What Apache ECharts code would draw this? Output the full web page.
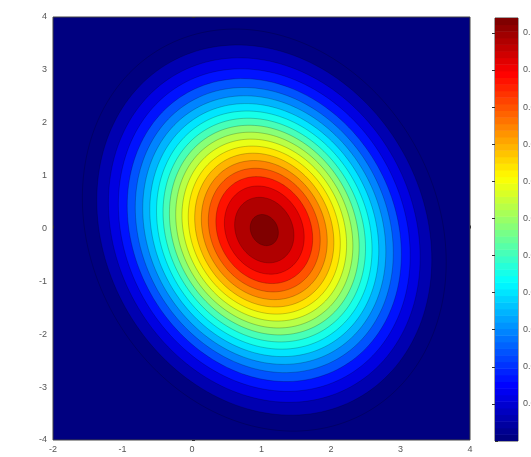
<!DOCTYPE html>
<html>
<head>
<meta charset="utf-8">
<script src="https://cdn.jsdelivr.net/npm/echarts@6.0.0/dist/echarts.min.js"></script>
<style>
html,body{margin:0;padding:0;background:#fff;}
#chart{width:531px;height:457px;}
</style>
</head>
<body>
<div id="chart"></div>
<script>
// ---- data ----
const xTicks = [-2, -1, 0, 1, 2, 3, 4];
const yTicks = [-4, -3, -2, -1, 0, 1, 2, 3, 4];
const colorbarTicks = [0.01, 0.02, 0.03, 0.04, 0.05, 0.06, 0.07, 0.08, 0.09, 0.10, 0.11];
const peakValue = 0.114;                   // top of the colour bar
const peakCenter = [1.04, -0.03];          // centre of the dark-red core
const shapeCov = [[1.55, -0.36], [-0.36, 3.27]]; // spread / tilt of the rings
const contourLevels = [0.0125, 0.0175, 0.0225, 0.0275, 0.0325, 0.0375, 0.0425, 0.0475, 0.0525, 0.0575,
                       0.0625, 0.0675, 0.0725, 0.0775, 0.0825, 0.0875, 0.0925, 0.0975, 0.1025, 0.1075, 0.1125];
const colormapSize = 64;

// ---- derived ----
const L11 = Math.sqrt(shapeCov[0][0]);
const L21 = shapeCov[1][0] / L11;
const L22 = Math.sqrt(shapeCov[1][1] - L21 * L21);
const levelMin = contourLevels[0];
const levelMax = contourLevels[contourLevels.length - 1];

function jet(t) {
  const c = v => Math.max(0, Math.min(1, v));
  const r = c(1.5 - Math.abs(4 * t - 3));
  const g = c(1.5 - Math.abs(4 * t - 2));
  const b = c(1.5 - Math.abs(4 * t - 1));
  return 'rgb(' + Math.round(r * 255) + ',' + Math.round(g * 255) + ',' + Math.round(b * 255) + ')';
}
function jetDiscrete(t) {
  const idx = Math.max(0, Math.min(colormapSize - 1, Math.round(t * (colormapSize - 1))));
  return jet(idx / (colormapSize - 1));
}

const contourData = contourLevels.map((lv, i) => [peakCenter[0], peakCenter[1], lv, i]);
const barData = [];
for (let i = 0; i < colormapSize; i++) barData.push([0.5, (i + 0.5) * peakValue / colormapSize, i]);

const labelStyle = { color: '#555', fontSize: 9, fontFamily: 'Liberation Sans' };

const chart = echarts.init(document.getElementById('chart'), null, { renderer: 'canvas' });
chart.setOption({
  animation: false,
  backgroundColor: '#fff',
  grid: [
    { left: 53, right: 61, top: 17, bottom: 17, show: true, backgroundColor: jet(0),
      borderColor: '#444', borderWidth: 1, containLabel: false, outerBoundsMode: 'none' },
    { left: 495, width: 23, top: 18, bottom: 16, show: true, borderColor: '#444', borderWidth: 1,
      containLabel: false, outerBoundsMode: 'none' }
  ],
  xAxis: [
    { gridIndex: 0, type: 'value', min: -2, max: 4, interval: 1,
      axisLine: { show: false }, splitLine: { show: false },
      axisTick: { inside: true, length: 3, lineStyle: { color: '#333' } },
      axisLabel: Object.assign({ margin: 5 }, labelStyle) },
    { gridIndex: 1, type: 'value', min: 0, max: 1, show: false }
  ],
  yAxis: [
    { gridIndex: 0, type: 'value', min: -4, max: 4, interval: 1,
      axisLine: { show: false }, splitLine: { show: false },
      axisTick: { inside: true, length: 3, lineStyle: { color: '#333' } },
      axisLabel: Object.assign({ margin: 6 }, labelStyle) },
    { gridIndex: 1, type: 'value', min: 0, max: peakValue, interval: 0.01, position: 'right',
      axisLine: { show: false }, splitLine: { show: false },
      axisTick: { inside: true, length: 3, lineStyle: { color: '#333' } },
      axisLabel: Object.assign({ margin: 5, showMinLabel: false, showMaxLabel: false,
        formatter: v => (colorbarTicks.some(t => Math.abs(t - v) < 1e-9) ? v.toFixed(2) : '') }, labelStyle) },
    { gridIndex: 1, type: 'value', min: 0, max: peakValue, interval: 0.01, position: 'left',
      axisLine: { show: false }, splitLine: { show: false }, axisLabel: { show: false },
      axisTick: { inside: true, length: 3, lineStyle: { color: '#333' } } }
  ],
  series: [
    {
      type: 'custom', xAxisIndex: 0, yAxisIndex: 0, clip: true,
      data: contourData,
      renderItem: function (params, api) {
        const lv = api.value(2);
        const c = -2 * Math.log(lv / peakValue);
        const s = Math.sqrt(c);
        const pts = [];
        const N = 180;
        for (let j = 0; j < N; j++) {
          const th = 2 * Math.PI * j / N;
          const u = s * Math.cos(th), w = s * Math.sin(th);
          pts.push(api.coord([peakCenter[0] + L11 * u, peakCenter[1] + L21 * u + L22 * w]));
        }
        return {
          type: 'polygon',
          shape: { points: pts },
          style: { fill: jetDiscrete((lv - levelMin) / (levelMax - levelMin)),
                   stroke: 'rgba(0,0,0,0.35)', lineWidth: 0.6 }
        };
      }
    },
    {
      type: 'custom', xAxisIndex: 1, yAxisIndex: 1, clip: true,
      data: barData,
      renderItem: function (params, api) {
        const i = api.value(2);
        const p0 = api.coord([0, i * peakValue / colormapSize]);
        const p1 = api.coord([1, (i + 1) * peakValue / colormapSize]);
        return {
          type: 'rect',
          shape: { x: p0[0], y: p1[1], width: p1[0] - p0[0], height: p0[1] - p1[1] + 0.5 },
          style: { fill: jet(i / (colormapSize - 1)) }
        };
      }
    }
  ]
});
</script>
</body>
</html>
